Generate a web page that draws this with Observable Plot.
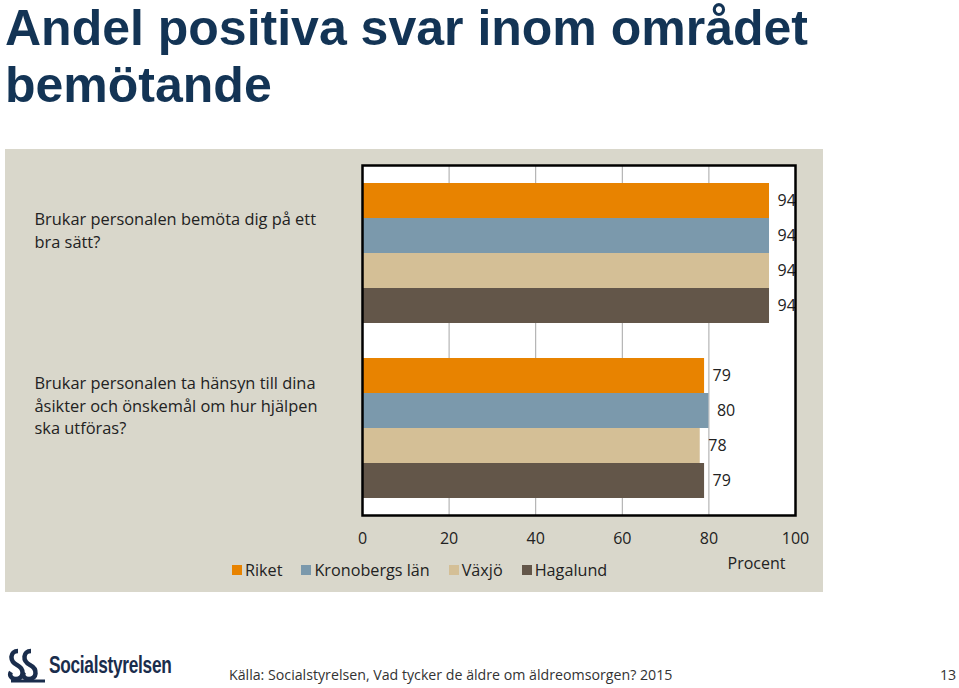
<!DOCTYPE html>
<html>
<head>
<meta charset="utf-8">
<script src="https://cdn.jsdelivr.net/npm/d3@7"></script>
<script src="https://cdn.jsdelivr.net/npm/@observablehq/plot@0.6"></script>
<style>
  html, body { margin: 0; padding: 0; background: #ffffff; width: 959px; height: 688px; overflow: hidden; }
  body { position: relative; font-family: "Open Sans", sans-serif; }
  #title { position: absolute; left: 5px; top: 0px; font: bold 50px/57px "Liberation Sans", Arial, sans-serif; color: #133455; margin: 0; white-space: nowrap; }
  #chart { position: absolute; left: 5px; top: 149px; }
  #legend { position: absolute; left: 232px; top: 559px; }
  .lg-swatches { font-family: "Open Sans", sans-serif !important; font-size: 16.2px !important; color: #222 !important; min-height: 22px !important; margin: 0 !important; }
  .lg-swatch { margin-right: 19px !important; }
  .lg-swatch > svg { margin-right: 3px !important; }
  #logo { position: absolute; left: 7px; top: 647px; display: flex; align-items: center; }
  #logo span { display: inline-block; font: bold 24px "Liberation Sans", sans-serif; color: #1a2d4c; letter-spacing: -0.4px; margin-left: 2px; transform: scaleX(0.72); transform-origin: left center; }
  #source { position: absolute; left: 229px; top: 665px; font: 14.2px "Open Sans", sans-serif; color: #333; white-space: nowrap; }
  #page { position: absolute; left: 940px; top: 665px; font: 14.2px "Open Sans", sans-serif; color: #333; }
</style>
</head>
<body>
<div id="title">Andel positiva svar inom området<br>bemötande</div>
<div id="chart"></div>
<div id="legend"></div>
<div id="logo">
  <svg width="40" height="36" viewBox="0 0 40 36">
    <path d="M11 4 C3 4 2 14 10 18 C18 22 17 32 9 32 C4 32 2 28 4 25" fill="none" stroke="#1a2d4c" stroke-width="4.5"/>
    <path d="M24 4 C16 4 15 14 23 18 C31 22 30 32 22 32 C17 32 15 28 17 25" fill="none" stroke="#1a2d4c" stroke-width="4.5"/>
    <path d="M4 34 L38 34" stroke="#1a2d4c" stroke-width="3"/>
  </svg>
  <span>Socialstyrelsen</span>
</div>
<div id="source">Källa: Socialstyrelsen, Vad tycker de äldre om äldreomsorgen? 2015</div>
<div id="page">13</div>
<script>
// ---- Data ----
const questions = [
  "Brukar personalen bemöta dig på ett bra sätt?",
  "Brukar personalen ta hänsyn till dina åsikter och önskemål om hur hjälpen ska utföras?"
];
const questionLabels = [
  "Brukar personalen bemöta dig på ett\nbra sätt?",
  "Brukar personalen ta hänsyn till dina\nåsikter och önskemål om hur hjälpen\nska utföras?"
];
const seriesNames = ["Riket", "Kronobergs län", "Växjö", "Hagalund"];
const riket = [94, 79];
const kronobergsLan = [94, 80];
const vaxjo = [94, 78];
const hagalund = [94, 79];
const seriesColors = ["#e88300", "#7b99ac", "#d4bf96", "#635649"];
const xTicks = [0, 20, 40, 60, 80, 100];
const axisLabel = "Procent";

// ---- Build table ----
const seriesValues = [riket, kronobergsLan, vaxjo, hagalund];
const rows = [];
questions.forEach((q, qi) => {
  seriesNames.forEach((s, si) => {
    rows.push({question: q, qi, series: s, value: seriesValues[si][qi], key: `${qi}|${s}`});
  });
});
const yDomain = [];
questions.forEach((q, qi) => {
  if (qi > 0) yDomain.push(`gap${qi}`);
  seriesNames.forEach(s => yDomain.push(`${qi}|${s}`));
});
const labelRows = questions.map((q, qi) => ({label: questionLabels[qi], key: `${qi}|${seriesNames[1]}`}));

const plot = Plot.plot({
  width: 818,
  height: 443,
  marginLeft: 357,
  marginRight: 28,
  marginTop: 16,
  marginBottom: 77,
  style: {background: "#d9d7cb", fontFamily: "Open Sans, sans-serif", fontSize: "16px", color: "#222", overflow: "visible"},
  x: {domain: [0, 100], ticks: xTicks, tickSize: 0, tickPadding: 17, label: null, tickFormat: d => `${d}`},
  y: {domain: yDomain, paddingInner: 0, paddingOuter: 0.5, axis: null},
  color: {domain: seriesNames, range: seriesColors},
  marks: [
    Plot.frame({fill: "white", stroke: null}),
    Plot.gridX(xTicks.filter(t => t > 0 && t < 100), {stroke: "#a6a6a6", strokeOpacity: 1, strokeWidth: 1}),
    Plot.barX(rows, {x: "value", y: "key", fill: "series"}),
    Plot.text(rows, {x: "value", y: "key", text: d => `${d.value}`, dx: 8, textAnchor: "start", fill: "#222", fontSize: 16, clip: true}),
    Plot.frame({stroke: "black", strokeWidth: 2.5}),
    Plot.text(labelRows, {y: "key", text: "label", frameAnchor: "left", dx: -328, dy: -6.5, textAnchor: "start", lineAnchor: "middle", lineHeight: 1.37, fill: "#222", fontSize: 16.4}),
    Plot.text([axisLabel], {text: d => d, frameAnchor: "bottom-right", dx: -10, dy: 53, textAnchor: "end", fill: "#222", fontSize: 16})
  ]
});
document.getElementById("chart").appendChild(plot);

const legend = Plot.legend({
  color: {domain: seriesNames, range: seriesColors},
  swatchSize: 10,
  className: "lg"
});
document.getElementById("legend").appendChild(legend);
</script>
</body>
</html>
